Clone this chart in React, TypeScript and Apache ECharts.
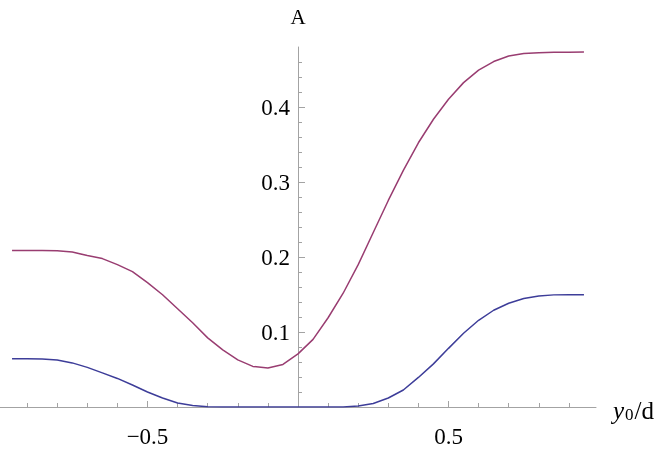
import React, { useEffect, useRef } from "react";
import * as echarts from "echarts";

const xs = [-0.95, -0.9, -0.85, -0.8, -0.75, -0.7, -0.65, -0.6, -0.55, -0.5, -0.45, -0.4, -0.35, -0.3, -0.25, -0.2, -0.15, -0.1, -0.05, 0, 0.05, 0.1, 0.15, 0.2, 0.25, 0.3, 0.35, 0.4, 0.45, 0.5, 0.55, 0.6, 0.65, 0.7, 0.75, 0.8, 0.85, 0.9, 0.95];
const purple = [0.2086, 0.2086, 0.2086, 0.2083, 0.2066, 0.2019, 0.1979, 0.1898, 0.1805, 0.1658, 0.1497, 0.131, 0.1123, 0.0922, 0.0762, 0.0628, 0.0541, 0.0521, 0.0568, 0.0708, 0.0902, 0.119, 0.1517, 0.1898, 0.2326, 0.2754, 0.3155, 0.3523, 0.3837, 0.4104, 0.4325, 0.4492, 0.4606, 0.4679, 0.4713, 0.4723, 0.4729, 0.473, 0.4733];
const blue = [0.0642, 0.0642, 0.0639, 0.0628, 0.0588, 0.0528, 0.0455, 0.0381, 0.0294, 0.02, 0.012, 0.0053, 0.002, 0.0003, 0, 0, 0, 0, 0, 0, 0, 0, 0.0001, 0.0013, 0.0047, 0.012, 0.0227, 0.0394, 0.0575, 0.0782, 0.0983, 0.1156, 0.129, 0.1384, 0.1447, 0.1481, 0.1495, 0.1497, 0.1497];

const xMinorTicks = [-0.9, -0.8, -0.7, -0.6, -0.5, -0.4, -0.3, -0.2, -0.1, 0.1, 0.2, 0.3, 0.4, 0.5, 0.6, 0.7, 0.8, 0.9];
const xMajorTicks = [-0.5, 0.5];
const yMinorTicks = [0.02, 0.04, 0.06, 0.08, 0.1, 0.12, 0.14, 0.16, 0.18, 0.2, 0.22, 0.24, 0.26, 0.28, 0.3, 0.32, 0.34, 0.36, 0.38, 0.4, 0.42, 0.44, 0.46];
const yMajorTicks = [0.1, 0.2, 0.3, 0.4];

const X_MIN = -0.99;
const X_MAX = 0.99;
const Y_MIN = 0;
const Y_MAX = 0.48;

const FONT = "'Liberation Serif', 'DejaVu Serif', serif";
const AXIS_GRAY = "#a3a3a3";

export default function App() {
  const ref = useRef<HTMLDivElement>(null);
  useEffect(() => {
    if (!ref.current) return;
    const chart = echarts.init(ref.current, undefined, { renderer: "svg" });
    const fmt = (v: number) => String(v).replace("-", "\u2212");
    const labelStyle = { color: "#000", fontFamily: FONT, fontSize: 23 };
    chart.setOption({
      animation: false,
      grid: [
        { left: 0, right: 68, top: 47, bottom: 43, containLabel: false, outerBoundsMode: "none" },
        { left: 298, right: 68, top: 47, bottom: 43, containLabel: false, outerBoundsMode: "none" },
      ],
      xAxis: [
        {
          type: "value",
          gridIndex: 0,
          min: X_MIN,
          max: X_MAX,
          position: "bottom",
          splitLine: { show: false },
          axisLine: { show: true, onZero: false, lineStyle: { color: AXIS_GRAY, width: 1 } },
          axisTick: { show: true, inside: true, length: 4, customValues: xMinorTicks, lineStyle: { color: AXIS_GRAY } },
          axisLabel: { show: true, customValues: xMajorTicks, formatter: fmt, margin: 18, ...labelStyle },
          name: "{i|y}{s|0}{n|/d}",
          nameLocation: "end",
          nameGap: 17,
          nameTextStyle: {
            padding: [5, 0, 0, 0],
            rich: {
              i: { fontFamily: FONT, fontSize: 25, fontStyle: "italic", color: "#000", lineHeight: 26, verticalAlign: "bottom", padding: [0, 1, 0, 0] },
              s: { fontFamily: FONT, fontSize: 17, color: "#000", lineHeight: 9, verticalAlign: "bottom", padding: [0, 1, 0, 0] },
              n: { fontFamily: FONT, fontSize: 25, color: "#000", lineHeight: 26, verticalAlign: "bottom" },
            },
          },
        },
        {
          type: "value",
          gridIndex: 0,
          min: X_MIN,
          max: X_MAX,
          position: "bottom",
          splitLine: { show: false },
          axisLine: { show: false, onZero: false },
          axisTick: { show: true, inside: true, length: 6, customValues: xMajorTicks, lineStyle: { color: AXIS_GRAY } },
          axisLabel: { show: false },
        },
        {
          type: "value",
          gridIndex: 1,
          min: 0,
          max: 1,
          show: false,
        },
      ],
      yAxis: [
        {
          type: "value",
          gridIndex: 0,
          min: Y_MIN,
          max: Y_MAX,
          show: false,
        },
        {
          type: "value",
          gridIndex: 1,
          min: Y_MIN,
          max: Y_MAX,
          position: "left",
          splitLine: { show: false },
          axisLine: { show: true, onZero: false, lineStyle: { color: AXIS_GRAY, width: 1 } },
          axisTick: { show: true, inside: true, length: 4, customValues: yMinorTicks, lineStyle: { color: AXIS_GRAY } },
          axisLabel: { show: true, customValues: yMajorTicks, margin: 8, ...labelStyle },
          name: "A",
          nameLocation: "end",
          nameGap: 20,
          nameTextStyle: { color: "#000", fontFamily: FONT, fontSize: 21 },
        },
        {
          type: "value",
          gridIndex: 1,
          min: Y_MIN,
          max: Y_MAX,
          position: "left",
          splitLine: { show: false },
          axisLine: { show: false, onZero: false },
          axisTick: { show: true, inside: true, length: 7, customValues: yMajorTicks, lineStyle: { color: AXIS_GRAY } },
          axisLabel: { show: false },
        },
      ],
      series: [
        {
          type: "line",
          name: "lower",
          xAxisIndex: 0,
          yAxisIndex: 0,
          showSymbol: false,
          symbol: "none",
          data: xs.map((x, i) => [x, blue[i]]),
          lineStyle: { color: "#3D3D99", width: 1.5 },
          z: 3,
        },
        {
          type: "line",
          name: "upper",
          xAxisIndex: 0,
          yAxisIndex: 0,
          showSymbol: false,
          symbol: "none",
          data: xs.map((x, i) => [x, purple[i]]),
          lineStyle: { color: "#993D71", width: 1.5 },
          z: 3,
        },
      ],
    });
    return () => chart.dispose();
  }, []);
  return <div ref={ref} style={{ position: "fixed", left: 0, top: 0, width: 664, height: 450 }} />;
}
